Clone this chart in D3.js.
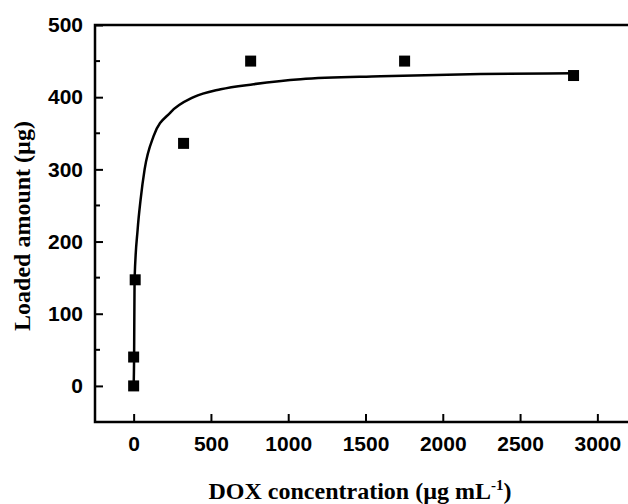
<!DOCTYPE html>
<html>
  <head>
    <meta charset="utf-8">
    <title>DOX loading</title>
    <style>
      body { margin: 0; background: #fff; }
      .tick text { font-family: "Liberation Sans", Arial, sans-serif; font-weight: bold; font-size: 21px; }
      .title { font-family: "Liberation Serif", "Times New Roman", serif; font-weight: bold; font-size: 24px; }
    </style>
  </head>
  <body>
    <div id="chart"></div>
    <script src="https://d3js.org/d3.v7.min.js"></script>
    <script>
      // measured points
      var concX = [0, 0, 10, 323, 757, 1753, 2846];
      var loadY = [0, 40, 147, 336, 450, 450, 430];

      // fitted curve
      var fitX = [0, 3, 6, 26, 45, 71, 129, 239, 388, 563, 776, 1080, 1598, 2245, 2846];
      var fitY = [0, 40, 147, 217, 258, 300, 346, 379, 400, 411, 418, 425, 429, 432, 433];

      var xTicks = [0, 500, 1000, 1500, 2000, 2500, 3000];
      var yTicks = [0, 100, 200, 300, 400, 500];
      var yMinor = [50, 150, 250, 350, 450];

      (function(d3) {
        'use strict';
        var width = 628, height = 504;
        var mLeft = 95, mTop = 25, mBottom = 422, mRight = 636;

        var svg = d3.select('#chart').append('svg')
          .attr('width', width)
          .attr('height', height);

        var x = d3.scaleLinear().domain([-250, 3250]).range([mLeft, mRight]);
        var y = d3.scaleLinear().domain([-50, 500]).range([mBottom, mTop]);

        // y axis, ticks inside
        var yAxis = svg.append('g')
          .attr('transform', 'translate(' + mLeft + ',0)')
          .call(d3.axisRight(y).tickValues(yTicks).tickSize(8).tickFormat(d3.format('d')));
        yAxis.selectAll('.tick text').attr('x', -12).attr('text-anchor', 'end');
        yAxis.selectAll('.tick line').attr('stroke-width', 2);
        yAxis.select('.domain').remove();
        svg.append('g').selectAll('line')
          .data(yMinor)
          .enter().append('line')
          .attr('x1', mLeft).attr('x2', mLeft + 5)
          .attr('y1', function(d) { return y(d); })
          .attr('y2', function(d) { return y(d); })
          .attr('stroke', '#000').attr('stroke-width', 2);

        // x axis, ticks inside
        var xAxis = svg.append('g')
          .attr('transform', 'translate(0,' + mBottom + ')')
          .call(d3.axisTop(x).tickValues(xTicks).tickSize(8).tickFormat(d3.format('d')));
        xAxis.selectAll('.tick text').attr('y', 14).attr('dy', '0.71em');
        xAxis.selectAll('.tick line').attr('stroke-width', 2);
        xAxis.select('.domain').remove();

        // frame: left, bottom, top
        svg.append('path')
          .attr('d', 'M' + mRight + ',' + mTop + 'H' + mLeft + 'V' + mBottom + 'H' + mRight)
          .attr('fill', 'none').attr('stroke', '#000').attr('stroke-width', 2.5);

        // fit curve
        var fit = fitX.map(function(d, i) { return [d, fitY[i]]; });
        svg.append('path')
          .datum(fit)
          .attr('fill', 'none')
          .attr('stroke', '#000')
          .attr('stroke-width', 2.5)
          .attr('d', d3.line()
            .x(function(d) { return x(d[0]); })
            .y(function(d) { return y(d[1]); })
            .curve(d3.curveMonotoneX));

        // markers
        var s = 11;
        svg.append('g').selectAll('rect')
          .data(concX.map(function(d, i) { return [d, loadY[i]]; }))
          .enter().append('rect')
          .attr('x', function(d) { return x(d[0]) - s / 2; })
          .attr('y', function(d) { return y(d[1]) - s / 2; })
          .attr('width', s).attr('height', s)
          .attr('fill', '#000');

        // titles
        var xt = svg.append('text').attr('class', 'title')
          .attr('x', 360).attr('y', 499).attr('text-anchor', 'middle');
        xt.append('tspan').text('DOX concentration (\u00b5g mL');
        xt.append('tspan').attr('font-size', '15px').attr('dy', -9).text('-1');
        xt.append('tspan').attr('dy', 9).text(')');

        svg.append('text').attr('class', 'title')
          .attr('transform', 'translate(30,226) rotate(-90)')
          .attr('text-anchor', 'middle')
          .text('Loaded amount (\u00b5g)');
      })(window.d3);
    </script>
  </body>
</html>
